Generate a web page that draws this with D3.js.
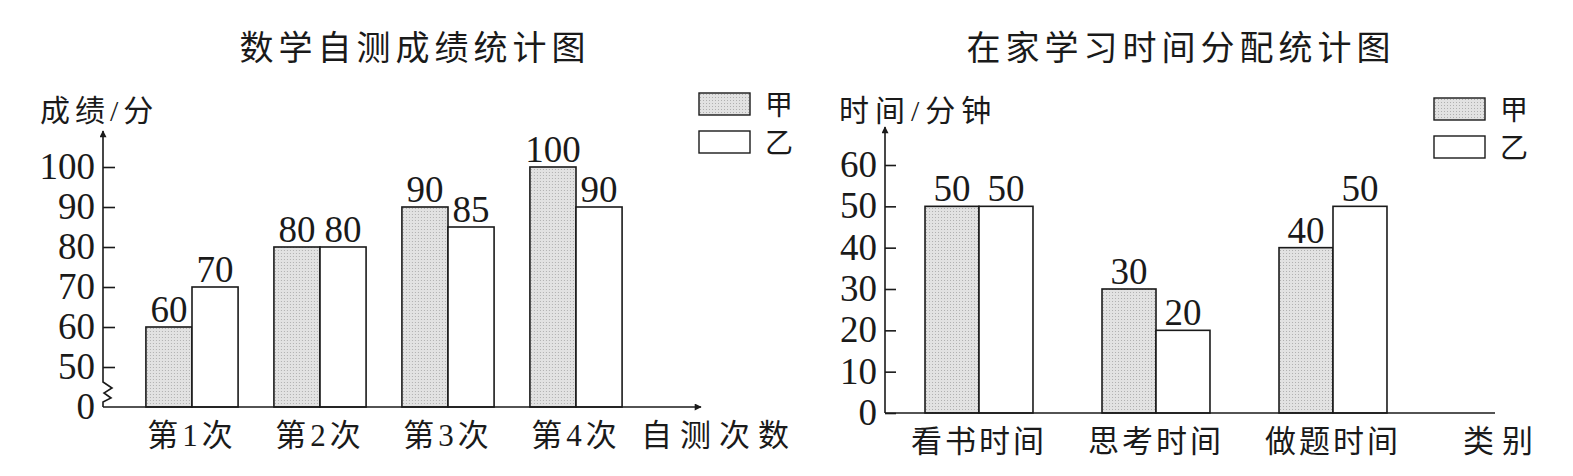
<!DOCTYPE html>
<html>
<head>
<meta charset="utf-8">
<script src="https://cdn.jsdelivr.net/npm/d3@7"></script>
<style>
  body { margin: 0; background: #fff; }
  text { fill: #1a1a1a; }
</style>
</head>
<body>
<svg></svg>
<script>
// left chart: math self-test scores
const testCats = ['第1次', '第2次', '第3次', '第4次'];
const testJia = [60, 80, 90, 100];
const testYi = [70, 80, 85, 90];
const testTicks = [50, 60, 70, 80, 90, 100];

// right chart: time at home
const timeCats = ['看书时间', '思考时间', '做题时间'];
const timeJia = [50, 30, 40];
const timeYi = [50, 20, 50];
const timeTicks = [0, 10, 20, 30, 40, 50, 60];

const series = ['甲', '乙'];

const width = 1573;
const height = 476;
const numFont = '"Liberation Serif", "Times New Roman", serif';
const cjkFont = '"Liberation Serif", "Noto Sans CJK SC", sans-serif';
const titleFont = '"Noto Sans CJK SC", sans-serif';

const svg = d3.select('svg').attr('width', width).attr('height', height);

const defs = svg.append('defs');
const pat = defs
  .append('pattern')
  .attr('id', 'dots')
  .attr('patternUnits', 'userSpaceOnUse')
  .attr('width', 3)
  .attr('height', 3);
pat.append('rect').attr('width', 3).attr('height', 3).attr('fill', '#e2e2e2');
pat.append('rect').attr('x', 1).attr('y', 1).attr('width', 1).attr('height', 1).attr('fill', '#b0b0b0');

defs
  .append('marker')
  .attr('id', 'arrow')
  .attr('viewBox', '0 0 10 10')
  .attr('refX', 9)
  .attr('refY', 5)
  .attr('markerWidth', 9)
  .attr('markerHeight', 7)
  .attr('markerUnits', 'userSpaceOnUse')
  .attr('orient', 'auto')
  .append('path')
  .attr('d', 'M0,0 L10,5 L0,10 Z')
  .attr('fill', '#1a1a1a');

function drawChart(cfg) {
  const g = svg.append('g');
  const x = d3
    .scaleBand()
    .domain(cfg.cats)
    .range(cfg.xRange)
    .paddingInner(cfg.pad)
    .paddingOuter(cfg.pad / 2);
  const xs = d3.scaleBand().domain(series).range([0, x.bandwidth()]);
  const y = d3.scaleLinear().domain(cfg.yDomain).range(cfg.yRange);
  const base = y(cfg.yDomain[0]);
  const ax = cfg.xRange[0] - cfg.axisGap;

  g.append('text')
    .attr('x', cfg.titleX)
    .attr('y', 60)
    .attr('text-anchor', 'middle')
    .attr('font-family', titleFont)
    .attr('font-size', 34)
    .attr('letter-spacing', 5)
    .text(cfg.title);

  g.append('text')
    .attr('x', cfg.yLabelX)
    .attr('y', 121)
    .attr('font-family', cjkFont)
    .attr('font-size', 30)
    .attr('letter-spacing', cfg.yLabelSpacing)
    .text(cfg.yLabel);

  // bars
  const rows = cfg.cats.map((c, i) => ({ cat: c, vals: [cfg.jia[i], cfg.yi[i]] }));
  const grp = g
    .selectAll('g.grp')
    .data(rows)
    .join('g')
    .attr('class', 'grp')
    .attr('transform', (d) => 'translate(' + x(d.cat) + ',0)');
  const cells = grp
    .selectAll('g.cell')
    .data((d) => d.vals.map((v, i) => ({ s: series[i], v: v })))
    .join('g')
    .attr('class', 'cell');
  cells
    .append('rect')
    .attr('x', (d) => xs(d.s))
    .attr('y', (d) => y(d.v))
    .attr('width', xs.bandwidth())
    .attr('height', (d) => base - y(d.v))
    .attr('fill', (d) => (d.s === '甲' ? 'url(#dots)' : '#fff'))
    .attr('stroke', '#1a1a1a')
    .attr('stroke-width', 1.6);
  cells
    .append('text')
    .attr('x', (d) => xs(d.s) + xs.bandwidth() / 2)
    .attr('y', (d) => y(d.v) - 5)
    .attr('text-anchor', 'middle')
    .attr('font-family', numFont)
    .attr('font-size', 37)
    .text((d) => d.v);

  // y axis
  const yAxis = d3
    .axisRight(y)
    .tickValues(cfg.ticks)
    .tickSize(cfg.tickLen)
    .tickFormat('');
  const ya = g.append('g').attr('transform', 'translate(' + ax + ',0)').call(yAxis);
  ya.select('.domain').remove();
  ya.selectAll('line').attr('stroke', '#1a1a1a').attr('stroke-width', 1.6);

  g.selectAll('text.ytick')
    .data(cfg.ticks)
    .join('text')
    .attr('class', 'ytick')
    .attr('x', ax - 8)
    .attr('y', (d) => y(d) + 12)
    .attr('text-anchor', 'end')
    .attr('font-family', numFont)
    .attr('font-size', 37)
    .text((d) => d);

  let yPath = 'M' + ax + ',' + base + ' L' + ax + ',' + cfg.yTop;
  if (cfg.broken) {
    yPath =
      'M' + ax + ',' + base +
      ' L' + ax + ',' + (base - 5) +
      ' L' + (ax + 8) + ',' + (base - 9) +
      ' L' + (ax + 1) + ',' + (base - 14) +
      ' L' + (ax + 9) + ',' + (base - 19) +
      ' L' + ax + ',' + (base - 25) +
      ' L' + ax + ',' + cfg.yTop;
    g.append('text')
      .attr('x', ax - 8)
      .attr('y', base + 12)
      .attr('text-anchor', 'end')
      .attr('font-family', numFont)
      .attr('font-size', 37)
      .text('0');
  }
  g.append('path')
    .attr('d', yPath)
    .attr('fill', 'none')
    .attr('stroke', '#1a1a1a')
    .attr('stroke-width', 1.6)
    .attr('marker-end', 'url(#arrow)');

  // x axis
  const xl = g
    .append('line')
    .attr('x1', ax)
    .attr('x2', cfg.xEnd)
    .attr('y1', base)
    .attr('y2', base)
    .attr('stroke', '#1a1a1a')
    .attr('stroke-width', 1.6);
  if (cfg.xArrow) xl.attr('marker-end', 'url(#arrow)');

  g.selectAll('text.xcat')
    .data(cfg.cats)
    .join('text')
    .attr('class', 'xcat')
    .attr('x', (d) => x(d) + x.bandwidth() / 2)
    .attr('y', base + 39)
    .attr('text-anchor', 'middle')
    .attr('font-family', cjkFont)
    .attr('font-size', 31)
    .attr('letter-spacing', cfg.catSpacing)
    .text((d) => d);

  g.append('text')
    .attr('x', cfg.xLabelX)
    .attr('y', base + 39)
    .attr('font-family', cjkFont)
    .attr('font-size', 31)
    .attr('letter-spacing', 8)
    .text(cfg.xLabel);

  // legend
  const lg = g
    .selectAll('g.leg')
    .data(series)
    .join('g')
    .attr('class', 'leg')
    .attr('transform', (d, i) => 'translate(' + cfg.legX + ',' + (cfg.legY + i * 38) + ')');
  lg.append('rect')
    .attr('width', 51)
    .attr('height', 22)
    .attr('fill', (d) => (d === '甲' ? 'url(#dots)' : '#fff'))
    .attr('stroke', '#1a1a1a')
    .attr('stroke-width', 1.4);
  lg.append('text')
    .attr('x', 66)
    .attr('y', 22)
    .attr('font-family', cjkFont)
    .attr('font-size', 28)
    .text((d) => d);
}

drawChart({
  title: '数学自测成绩统计图',
  titleX: 415,
  yLabel: '成绩/分',
  yLabelX: 40,
  yLabelSpacing: 5,
  xLabel: '自测次数',
  xLabelX: 641,
  cats: testCats,
  jia: testJia,
  yi: testYi,
  ticks: testTicks,
  xRange: [128, 640],
  pad: 0.28,
  axisGap: 25,
  yDomain: [40, 100],
  yRange: [407, 167],
  yTop: 131,
  tickLen: 12,
  broken: true,
  xEnd: 701,
  xArrow: true,
  catSpacing: 4,
  legX: 699,
  legY: 93
});

drawChart({
  title: '在家学习时间分配统计图',
  titleX: 1181,
  yLabel: '时间/分钟',
  yLabelX: 839,
  yLabelSpacing: 6,
  xLabel: '类别',
  xLabelX: 1463,
  cats: timeCats,
  jia: timeJia,
  yi: timeYi,
  ticks: timeTicks,
  xRange: [890.5, 1421.5],
  pad: 0.39,
  axisGap: 5.5,
  yDomain: [0, 60],
  yRange: [413, 165],
  yTop: 127,
  tickLen: 11,
  broken: false,
  xEnd: 1495,
  xArrow: false,
  catSpacing: 3,
  legX: 1434,
  legY: 98
});
</script>
</body>
</html>
